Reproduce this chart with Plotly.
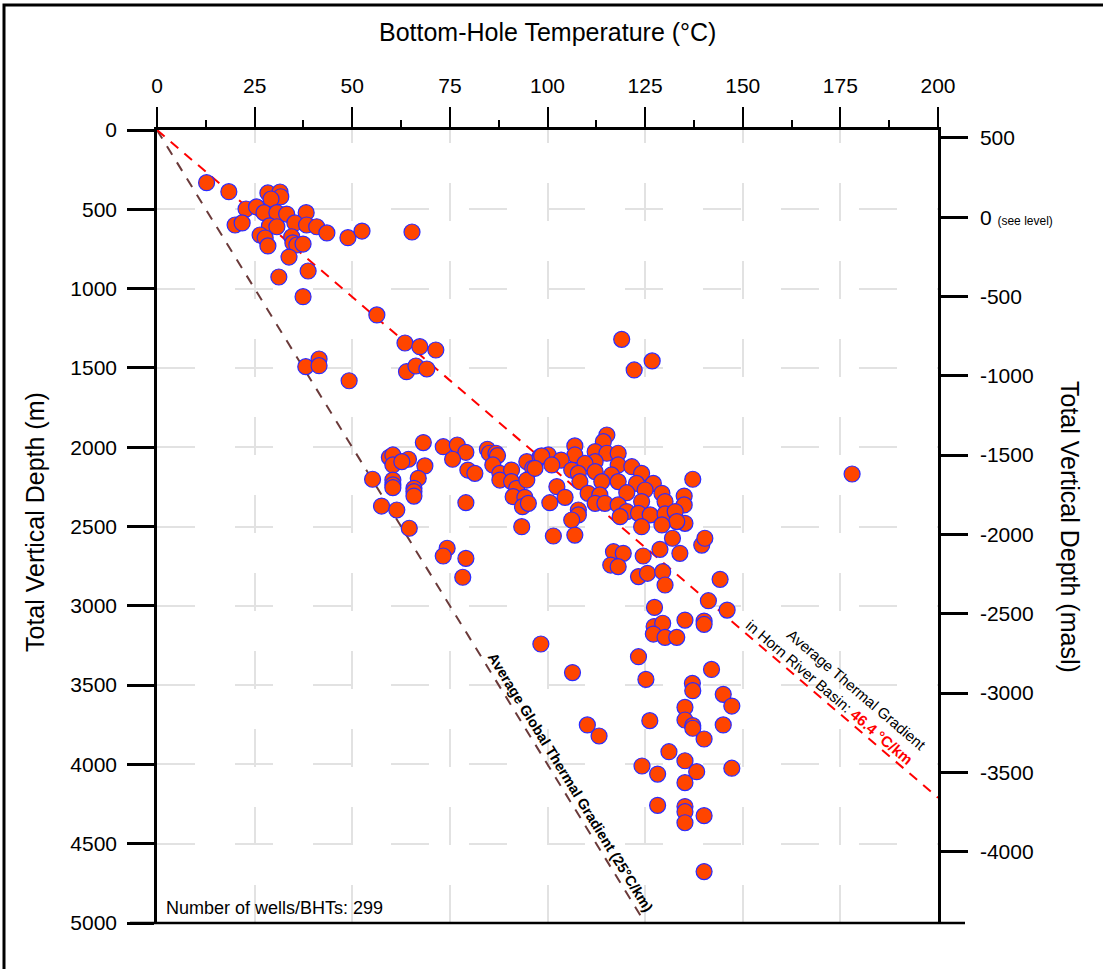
import plotly.graph_objects as go

# ---------------- data ----------------
temp_c = [
    # shallow wells
    12.7, 18.4, 22.8, 25.5, 28.4, 31.5, 31.7, 29.2, 27.4, 30.7, 33.2, 38.2, 35.3, 38.3, 40.9,
    43.5, 28.8, 30.7, 20.0, 21.8, 26.4, 27.7, 28.4, 34.5, 34.8, 35.8, 37.4, 33.8, 38.7, 31.2,
    37.4, 48.9, 52.5, 65.3, 56.3, 63.5, 67.3, 71.4, 63.9, 66.3, 69.1, 38.1, 41.5, 41.5, 49.2,
    # upper right outliers
    119.0, 122.2, 126.8, 178.0,
    # main cluster (left part)
    68.2, 73.3, 76.9, 79.1, 75.7, 59.5, 60.4, 60.4, 64.4, 62.7, 68.6, 55.2, 60.4, 60.4, 60.4,
    66.9, 65.8, 65.8, 65.8, 79.6, 81.4, 57.5, 61.4, 64.6, 79.1, 84.6, 85.1, 86.8, 87.2, 86.0,
    87.8, 87.8, 90.8, 90.8, 92.1, 94.7, 96.2, 94.7, 91.2, 94.2, 93.6, 95.1, 93.4, 98.1, 74.3,
    73.3, 79.1,
    # main cluster (right part)
    115.2, 114.3, 107.0, 112.2, 115.2, 118.1, 107.0, 100.2, 98.5, 103.5, 101.1, 96.8, 112.2,
    109.6, 118.1, 121.6, 106.2, 107.9, 112.2, 116.4, 124.1, 127.1, 137.2, 102.4, 108.3, 113.9,
    118.1, 122.8, 110.4, 113.4, 120.3, 125.0, 129.3, 104.5, 100.6, 112.2, 114.7, 118.1, 124.1,
    130.1, 135.0, 135.0, 120.3, 123.3, 126.3, 130.1, 132.7, 135.2, 133.1, 129.3, 124.1, 118.6,
    107.9, 107.9, 106.2, 107.0, 101.5, 116.9, 119.4, 128.8, 132.0, 139.5, 140.3, 124.5, 133.9,
    # deep wells
    116.2, 118.1, 123.3, 125.6, 129.5, 130.1, 144.2, 141.2, 146.0, 127.4, 127.3, 129.5, 127.1,
    130.1, 133.1, 135.2, 140.1, 140.1, 123.3, 125.2, 142.0, 137.1, 137.2, 145.0, 147.2, 135.2,
    135.2, 137.2, 137.2, 140.1, 145.0, 126.2, 110.2, 113.2, 131.1, 135.2, 138.2, 124.2, 128.2,
    135.2, 147.2, 128.2, 135.2, 135.2, 135.2, 140.1, 140.1, 106.4, 98.3, 78.3,
]
depth_m = [
    332, 389, 498, 485, 397, 391, 421, 435, 521, 521, 530, 521, 586, 599, 610,
    649, 605, 610, 599, 586, 662, 681, 731, 673, 712, 725, 719, 801, 889, 927,
    1051, 679, 637, 643, 1166, 1343, 1366, 1387, 1524, 1488, 1507, 1492, 1444, 1486, 1581,
    1320, 1513, 1456, 2169,
    1971, 1997, 1986, 2032, 2076, 2064, 2049, 2112, 2076, 2091, 2118, 2202, 2207, 2238, 2255,
    2196, 2259, 2280, 2308, 2144, 2165, 2371, 2396, 2511, 2350, 2013, 2038, 2038, 2053, 2112,
    2165, 2207, 2144, 2217, 2259, 2091, 2133, 2207, 2312, 2316, 2375, 2354, 2501, 2060, 2637,
    2686, 2701,
    1923, 1965, 1992, 2028, 2038, 2038, 2049, 2049, 2055, 2081, 2112, 2133, 2091,
    2102, 2112, 2123, 2144, 2165, 2154, 2175, 2165, 2228, 2202, 2249, 2217, 2217,
    2217, 2228, 2291, 2301, 2287, 2270, 2291, 2316, 2350, 2354, 2354, 2364, 2343,
    2343, 2308, 2364, 2406, 2417, 2427, 2421, 2406, 2480, 2469, 2490, 2501, 2438,
    2396, 2427, 2459, 2554, 2560, 2659, 2669, 2644, 2574, 2617, 2574, 2686, 2669,
    2743, 2753, 2816, 2795, 2785, 2869, 2833, 2968, 3027, 3010, 3131, 3110, 3178,
    3199, 3199, 3090, 3096, 3117, 3321, 3464, 3401, 3489, 3535, 3558, 3632, 3640,
    3720, 3756, 3772, 3840, 3751, 3724, 3751, 3821, 3920, 3977, 4046, 4010, 4061,
    4115, 4024, 4258, 4266, 4298, 4368, 4323, 4676, 3421, 3241, 2820,
]

# gradient lines as drawn in the figure
hrb_line_temp = [0, 200]
hrb_line_depth = [0, 4210]
global_line_temp = [0, 125]
global_line_depth = [0, 5000]

x_ticks = [0, 25, 50, 75, 100, 125, 150, 175, 200]
y_ticks = [0, 500, 1000, 1500, 2000, 2500, 3000, 3500, 4000, 4500, 5000]
masl_ticks = [500, 0, -500, -1000, -1500, -2000, -2500, -3000, -3500, -4000]
masl_labels = ["500", "0 <span style='font-size:12px'>(see level)</span>", "-500", "-1000",
               "-1500", "-2000", "-2500", "-3000", "-3500", "-4000"]

FONT = "Arial, 'Liberation Sans', sans-serif"

fig = go.Figure()

fig.add_trace(go.Scatter(
    x=global_line_temp, y=global_line_depth, mode="lines",
    line=dict(color="#6b3a3a", width=2, dash="10px,9px"),
    hoverinfo="skip", showlegend=False))
fig.add_trace(go.Scatter(
    x=hrb_line_temp, y=hrb_line_depth, mode="lines",
    line=dict(color="#ff0000", width=2, dash="10px,8px"),
    hoverinfo="skip", showlegend=False))
fig.add_trace(go.Scatter(
    x=temp_c, y=depth_m, mode="markers",
    marker=dict(size=16, color="#ff4500", line=dict(color="#2b2bff", width=1.2)),
    showlegend=False))
# invisible trace to activate the right axis
fig.add_trace(go.Scatter(x=[None], y=[None], yaxis="y2", showlegend=False))

W, H = 1103, 969
L, R, T, B = 157, 165, 130, 46

fig.update_layout(
    width=W, height=H, autosize=False,
    margin=dict(l=L, r=R, t=T, b=B, pad=0),
    paper_bgcolor="white", plot_bgcolor="white",
    font=dict(family=FONT, color="black"),
    xaxis=dict(
        side="top", range=[0, 200], tickvals=x_ticks, ticks="outside",
        ticklen=20, tickwidth=2, tickcolor="black",
        showline=True, linewidth=2.5, linecolor="black",
        tickfont=dict(size=21, family=FONT), ticklabelstandoff=6,
        showgrid=True, gridcolor="#e2e2e2", gridwidth=2, griddash="13px,40px,25px,0px",
        zeroline=False, fixedrange=True,
        minor=dict(dtick=12.5, tick0=0, ticks="outside", ticklen=7, tickwidth=2,
                   tickcolor="black", showgrid=False),
    ),
    yaxis=dict(
        range=[5000, 0], tickvals=y_ticks, ticks="outside",
        ticklen=27, tickwidth=2.5, tickcolor="black",
        showline=True, linewidth=2.5, linecolor="black",
        tickfont=dict(size=21, family=FONT), ticklabelstandoff=6,
        showgrid=True, gridcolor="#e2e2e2", gridwidth=2, griddash="38px,40px",
        zeroline=False, fixedrange=True,
    ),
    yaxis2=dict(
        overlaying="y", side="right", range=[-4450, 550],
        tickvals=masl_ticks, ticktext=masl_labels, ticks="outside",
        ticklen=27, tickwidth=2.5, tickcolor="black",
        showline=True, linewidth=2.5, linecolor="black",
        tickfont=dict(size=21, family=FONT), ticklabelstandoff=8,
        showgrid=False, zeroline=False, fixedrange=True,
    ),
)

pw = W - L - R
ph = H - T - B


def px_x(p):
    return (p - L) / pw


def px_y(p):
    return (H - B - p) / ph


shapes = [
    # outer frame
    dict(type="rect", xref="paper", yref="paper", x0=px_x(4), x1=px_x(1200),
         y0=px_y(1100), y1=px_y(5), line=dict(color="black", width=3)),
    # bottom line extended
    dict(type="line", xref="paper", yref="paper", x0=px_x(130), x1=px_x(965),
         y0=0, y1=0, line=dict(color="black", width=2.5)),
]
fig.update_layout(shapes=shapes)

annotations = [
    dict(text="Bottom-Hole Temperature (°C)", xref="paper", yref="paper",
         x=0.5, y=px_y(32), showarrow=False, font=dict(size=25, family=FONT),
         xanchor="center", yanchor="middle"),
    dict(text="Total Vertical Depth (m)", xref="paper", yref="paper",
         x=px_x(35), y=px_y(522), showarrow=False, textangle=-90,
         font=dict(size=25, family=FONT), xanchor="center", yanchor="middle"),
    dict(text="Total Vertical Depth (masl)", xref="paper", yref="paper",
         x=px_x(1070), y=px_y(527), showarrow=False, textangle=90,
         font=dict(size=25, family=FONT), xanchor="center", yanchor="middle"),
    dict(text="Number of wells/BHTs: 299", xref="paper", yref="paper",
         x=px_x(164), y=px_y(908), showarrow=False, xanchor="left", yanchor="middle",
         font=dict(size=18, family=FONT)),
    dict(text="<b>Average Global Thermal Gradient (25°C/km)</b>", xref="x", yref="y",
         x=105.8, y=4111, showarrow=False, textangle=58.4,
         font=dict(size=14.5, family=FONT)),
    dict(text="Average Thermal Gradient<br>in Horn River Basin: "
              "<b><span style='color:#ff0000'>46.4 °C/km</span></b>",
         xref="x", yref="y", x=174.0, y=3500, showarrow=False, textangle=40.5,
         align="right", font=dict(size=15, family=FONT)),
]
fig.update_layout(annotations=annotations)

fig.write_html("out.html")
